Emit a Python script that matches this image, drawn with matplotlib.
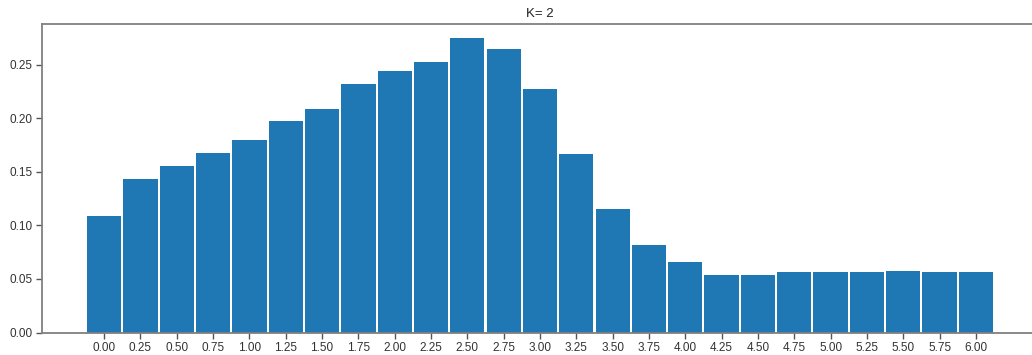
import matplotlib.pyplot as plt

plt.rcParams["font.family"] = ["Liberation Sans", "DejaVu Sans"]

bins = [0.00, 0.25, 0.50, 0.75, 1.00, 1.25, 1.50, 1.75, 2.00, 2.25, 2.50, 2.75,
        3.00, 3.25, 3.50, 3.75, 4.00, 4.25, 4.50, 4.75, 5.00, 5.25, 5.50, 5.75, 6.00]
density = [0.1085, 0.143, 0.155, 0.168, 0.180, 0.197, 0.2085, 0.232, 0.244, 0.2525,
           0.275, 0.2645, 0.227, 0.167, 0.115, 0.082, 0.0655, 0.0535, 0.0535, 0.0565,
           0.0565, 0.0565, 0.0575, 0.0565, 0.0565]
tick_labels = [f"{b:.2f}" for b in bins]

dpi = 100
fig = plt.figure(figsize=(1032 / dpi, 355 / dpi), dpi=dpi)
ax = fig.add_axes([42 / 1032, 1 - 332.5 / 355, 996 / 1032, 308.5 / 355])

ax.bar(bins, density, width=0.236, color="#1f77b4")
ax.set_xticks(bins)
ax.set_xticklabels(tick_labels)
ax.set_xlim(-0.427, 6.427)
ax.set_ylim(0, 0.288)
ax.set_yticks([0.0, 0.05, 0.10, 0.15, 0.20, 0.25])
ax.set_yticklabels(["0.00", "0.05", "0.10", "0.15", "0.20", "0.25"])
ax.set_title("K= 2", fontsize=9.5, pad=5, color="#222222")

for side, spine in ax.spines.items():
    spine.set_color("#808080")
    spine.set_linewidth(1.3)
ax.tick_params(labelsize=8.5, colors="#333333", length=4, width=1, pad=3)
ax.tick_params(color="#555555")

plt.savefig("out.png", dpi=dpi)
